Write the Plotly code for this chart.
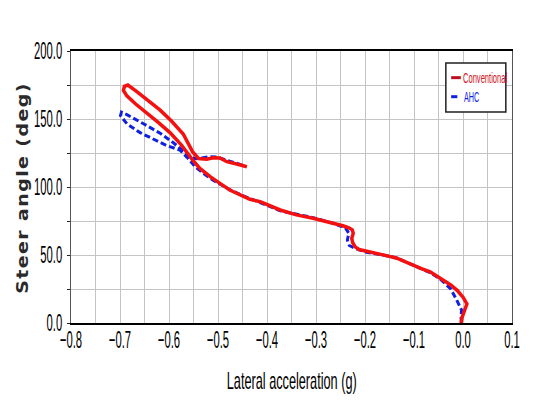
import plotly.graph_objects as go

# Steer angle vs lateral acceleration, two controller variants (time-ordered samples)
conv_lat_acc = [
    -0.004, -0.002, 0.003, 0.008, 0.000, -0.012, -0.025, -0.047, -0.067, -0.085,
    -0.101, -0.120, -0.135, -0.150, -0.163, -0.180, -0.197, -0.212, -0.220, -0.225,
    -0.227, -0.224, -0.226, -0.233, -0.245, -0.258, -0.271, -0.290, -0.306, -0.340,
    -0.373, -0.394, -0.414, -0.435, -0.455, -0.476, -0.496, -0.516, -0.537, -0.552,
    -0.575, -0.598, -0.622, -0.646, -0.668, -0.686, -0.693, -0.691, -0.684,
    -0.665, -0.640, -0.618, -0.595, -0.571, -0.552, -0.540, -0.523, -0.510,
    -0.496, -0.482, -0.462, -0.441,
]
conv_steer = [
    0.0, 4.0, 9.0, 14.0, 19.0, 24.0, 28.0, 33.0, 37.7, 40.0,
    42.6, 45.5, 47.6, 49.0, 50.0, 51.0, 52.4, 54.0, 56.0, 59.0,
    62.3, 66.0, 68.5, 70.0, 71.5, 72.5, 73.5, 75.5, 77.0, 79.5,
    83.1, 86.0, 89.2, 91.0, 94.1, 97.8, 102.7, 107.6, 113.7, 120.0,
    131.0, 140.0, 147.5, 154.5, 161.0, 167.0, 171.0, 174.0, 175.0,
    170.0, 163.0, 156.5, 148.5, 139.0, 126.0, 121.0, 120.5, 121.5,
    121.3, 118.6, 116.9, 114.9,
]

ahc_lat_acc = [
    -0.003, -0.004, -0.003, -0.008, -0.013, -0.025, -0.047, -0.067, -0.101, -0.135,
    -0.163, -0.197, -0.218, -0.232, -0.236, -0.233, -0.240, -0.258, -0.271, -0.306,
    -0.373, -0.414, -0.455, -0.478, -0.510, -0.530, -0.547, -0.561, -0.578,
    -0.605, -0.632, -0.659, -0.686, -0.699, -0.697, -0.685, -0.652, -0.618, -0.591,
    -0.570, -0.555, -0.545, -0.532, -0.516, -0.503, -0.482, -0.462, -0.445,
]
ahc_steer = [
    0.0, 4.0, 9.6, 14.0, 17.0, 25.0, 32.5, 37.0, 42.5, 47.8,
    50.0, 52.0, 54.5, 57.0, 61.0, 66.0, 70.0, 72.5, 74.0, 77.5,
    82.5, 88.5, 94.5, 98.5, 105.0, 110.0, 115.0, 121.0, 127.2,
    130.5, 135.0, 140.0, 146.5, 152.5, 155.0, 153.0, 146.5, 139.5, 132.5,
    126.0, 121.5, 120.8, 121.5, 122.3, 122.0, 119.5, 117.5, 115.5,
]

RED = "#f51010"
BLUE = "#1020e0"
NARROW = "Liberation Sans, Arial, sans-serif"
GRID = "#c4c4c4"

fig = go.Figure()
fig.add_trace(go.Scatter(
    x=ahc_lat_acc, y=ahc_steer, mode="lines", name="AHC",
    line=dict(color=BLUE, width=3, dash="6px,3px"), showlegend=False,
))
fig.add_trace(go.Scatter(
    x=conv_lat_acc, y=conv_steer, mode="lines", name="Conventional",
    line=dict(color=RED, width=3.5), showlegend=False,
))

fig.update_xaxes(
    range=[-0.8, 0.1], dtick=0.1, tick0=-0.8, tickformat=".1f", tickangle=0,
    showgrid=True, gridcolor=GRID, gridwidth=1,
    minor=dict(dtick=0.05, showgrid=True, gridcolor=GRID, gridwidth=1),
    ticks="", ticklabelstandoff=-6, automargin=False,
    showline=True, linecolor="black", linewidth=2, mirror=True,
    zeroline=False,
    tickfont=dict(family=NARROW, size=24, color="black"),
)
fig.update_yaxes(
    range=[0, 200], dtick=50, tickformat=".1f",
    showgrid=True, gridcolor=GRID, gridwidth=1,
    minor=dict(dtick=25, showgrid=True, gridcolor=GRID, gridwidth=1,
               ticks="outside", ticklen=3, tickcolor="#222"),
    ticks="outside", ticklen=3, tickcolor="#222", ticklabelstandoff=0,
    automargin=False,
    showline=True, linecolor="#555", linewidth=1, mirror=True,
    zeroline=False,
    tickfont=dict(family=NARROW, size=24, color="black"),
)

# axis titles
fig.add_annotation(
    text="Lateral acceleration (g)", xref="paper", yref="paper",
    x=0.5, y=-0.213, xanchor="center", yanchor="middle", showarrow=False,
    font=dict(family=NARROW, size=24, color="black"),
)
fig.add_annotation(
    text='<span style="letter-spacing:1.4px">Steer angle (deg)</span>',
    xref="paper", yref="paper", x=-0.111, y=0.497, textangle=-90,
    xanchor="center", yanchor="middle", showarrow=False,
    font=dict(family="DejaVu Sans, Verdana, sans-serif", size=19,
              color="#2a2a2a", weight="bold"),
)

# legend box
fig.add_shape(type="rect", xref="paper", yref="paper",
              x0=0.850, x1=0.986, y0=0.776, y1=0.956,
              line=dict(color="#202020", width=1.5), fillcolor="white")
fig.add_shape(type="line", xref="paper", yref="paper",
              x0=0.862, x1=0.884, y0=0.902, y1=0.902,
              line=dict(color="#c01020", width=3))
fig.add_shape(type="line", xref="paper", yref="paper",
              x0=0.862, x1=0.876, y0=0.832, y1=0.832,
              line=dict(color=BLUE, width=3))
fig.add_annotation(text="Conventional", xref="paper", yref="paper",
                   x=0.884, y=0.902, xanchor="left", yanchor="middle",
                   showarrow=False,
                   font=dict(family=NARROW, size=14, color="#d01020"))
fig.add_annotation(text="AHC", xref="paper", yref="paper",
                   x=0.886, y=0.832, xanchor="left", yanchor="middle",
                   showarrow=False,
                   font=dict(family=NARROW, size=14, color=BLUE))

fig.update_layout(
    width=536, height=411,
    margin=dict(l=71, r=24, t=51, b=88),
    paper_bgcolor="white", plot_bgcolor="white",
)

# Condensed lettering: squeeze text horizontally about a fixed anchor point.
condense_js = """
var gd = document.getElementById('{plot_id}');
function squeeze(sel, sx, sy, hx, vy) {
  gd.querySelectorAll(sel).forEach(function (t) {
    var b = t.getBBox();
    var ax = b.x + b.width * hx, ay = b.y + b.height * vy;
    var tr = t.getAttribute('transform') || '';
    t.setAttribute('transform', tr + ' translate(' + ax + ',' + ay + ') scale(' +
      sx + ',' + sy + ') translate(' + (-ax) + ',' + (-ay) + ')');
  });
}
squeeze('.xtick text', 0.47, 1, 0.5, 0);
squeeze('.ytick text', 0.47, 1, 1, 0.5);
squeeze('.annotation[data-index="0"] text', 0.53, 1, 0.5, 0.5);
squeeze('.annotation[data-index="1"] text', 1, 0.8, 0.5, 0.5);
squeeze('.annotation[data-index="2"] text', 0.54, 1, 0, 0.5);
squeeze('.annotation[data-index="3"] text', 0.52, 1, 0, 0.5);
"""

fig.write_html("out.html", post_script=condense_js)
